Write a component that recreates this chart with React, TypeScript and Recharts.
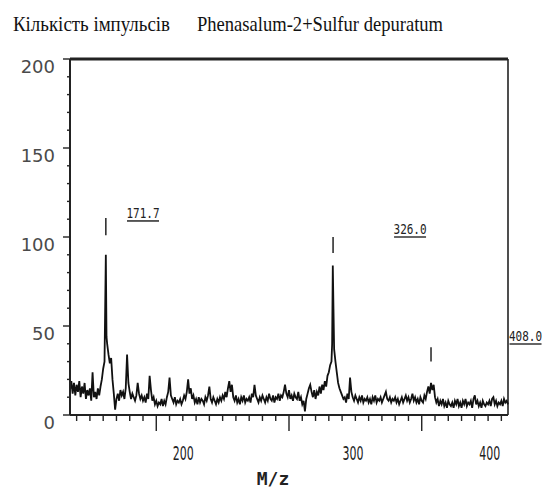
import React from "react";
import { ComposedChart, Line, XAxis, YAxis, ReferenceLine, ReferenceDot } from "recharts";

// m/z positions
const mz = [
  135, 136, 137, 138, 139, 140, 141, 142, 143, 144,
  145, 146, 147, 148, 149, 150, 151, 152, 153, 154,
  155, 156, 157, 158, 159, 160, 161,
  162, 162.5,
  163, 164, 165, 166, 167, 168, 169, 170, 171, 172,
  173, 174, 175, 176, 177, 178, 179, 180, 181, 182,
  183, 184, 185, 186, 187, 188, 189, 190, 191, 192,
  193, 194, 195, 196, 197, 198, 199, 200, 201, 202,
  203, 204, 205, 206, 207, 208, 209, 210, 211, 212,
  213, 214, 215, 216, 217, 218, 219, 220, 221, 222,
  223, 224, 225, 226, 227, 228, 229, 230, 231, 232,
  233, 234, 235, 236, 237, 238, 239, 240, 241, 242,
  243, 244, 245, 246, 247, 248, 249, 250, 251, 252,
  253, 254, 255, 256, 257, 258, 259, 260, 261, 262,
  263, 264, 265, 266, 267, 268, 269, 270, 271, 272,
  273, 274, 275, 276, 277, 278, 279, 280, 281, 282,
  283, 284, 285, 286, 287, 288, 289, 290, 291, 292,
  293, 294, 295, 296, 297, 298, 299, 300, 301, 302,
  303, 304, 305, 306, 307, 308, 309, 310, 311, 312,
  313, 314, 315, 316, 317, 318, 319, 320, 321, 322,
  323, 324, 325, 326, 327, 328, 329, 330, 331, 332,
  332.5, 333, 333.5,
  334, 335, 336, 337, 338, 339, 340, 341, 342, 343,
  344, 345, 346, 347, 348, 349, 350, 351, 352, 353,
  354, 355, 356, 357, 358, 359, 360, 361, 362, 363,
  364, 365, 366, 367, 368, 369, 370, 371, 372, 373,
  374, 375, 376, 377, 378, 379, 380, 381, 382, 383,
  384, 385, 386, 387, 388, 389, 390, 391, 392, 393,
  394, 395, 396, 397, 398, 399, 400, 401, 402, 403,
  404, 405, 406, 407, 408, 409, 410, 411, 412, 413,
  414, 415, 416, 417, 418, 419, 420, 421, 422, 423,
  424, 425, 426, 427, 428, 429, 430, 431, 432, 433,
  434, 435, 436, 437, 438, 439, 440, 441, 442, 443,
  444, 445, 446, 447, 448, 449, 450, 451, 452, 453,
  454, 455, 456, 457, 458, 459, 460, 461, 462, 463,
  464, 465,
];

// pulse counts at each m/z
const counts = [
  14, 19, 12, 18, 11, 17, 13, 19, 10, 16,
  12, 18, 9, 14, 11, 15, 8, 24, 10, 13,
  9, 15, 11, 16, 20, 26, 30,
  90, 44,
  40, 34, 29, 32, 20, 12, 3, 9, 12, 8,
  14, 11, 13, 9, 15, 34, 18, 13, 9, 12,
  10, 8, 11, 18, 12, 9, 11, 8, 10, 7,
  12, 9, 22, 14, 8, 10, 6, 8, 5, 7,
  6, 9, 5, 8, 6, 10, 13, 21, 11, 9,
  7, 10, 6, 8, 7, 9, 6, 8, 11, 9,
  13, 20, 12, 15, 9, 11, 7, 9, 6, 10,
  7, 9, 8, 6, 10, 8, 11, 16, 9, 7,
  10, 8, 6, 9, 7, 10, 8, 11, 9, 13,
  10, 15, 19, 13, 17, 10, 8, 11, 7, 9,
  6, 10, 8, 11, 7, 9, 8, 10, 7, 12,
  10, 17, 11, 9, 7, 10, 8, 11, 9, 7,
  10, 8, 12, 9, 8, 11, 7, 10, 9, 12,
  8, 11, 10, 13, 17, 12, 10, 14, 9, 11,
  8, 12, 10, 9, 13, 8, 10, 6, 8, 2,
  9, 12, 15, 17, 13, 10, 14, 9, 13, 11,
  16, 12, 17, 14, 19, 16, 22, 24, 28, 30,
  40, 84, 60,
  37, 30, 24, 18, 15, 13, 11, 9, 10, 7,
  12, 9, 21, 13, 10, 8, 11, 9, 7, 10,
  8, 11, 7, 9, 8, 10, 7, 9, 6, 10,
  8, 11, 7, 9, 8, 10, 7, 9, 11, 13,
  9, 8, 10, 7, 9, 8, 10, 7, 9, 6,
  8, 10, 7, 9, 11, 8, 10, 7, 9, 12,
  8, 10, 7, 9, 6, 10, 8, 7, 11, 9,
  13, 16, 12, 18, 14, 17, 10, 7, 9, 5,
  8, 6, 9, 5, 7, 4, 8, 6, 5, 7,
  4, 8, 6, 9, 5, 7, 4, 8, 6, 9,
  5, 7, 6, 8, 4, 9, 11, 6, 8, 5,
  7, 4, 8, 6, 5, 7, 6, 8, 5, 9,
  10, 6, 8, 5, 7, 6, 8, 5, 9, 7,
  8, 6,
];

const xTicks = [140, 150, 160, 170, 180, 190, 200, 210, 220, 230, 240, 250, 260, 270, 280, 290, 300, 310, 320, 330, 340, 350, 360, 370, 380, 390, 400, 410, 420, 430, 440, 450, 460];
const xLabels = [200, 300, 400];
const yTicks = [0, 10, 20, 30, 40, 50, 60, 70, 80, 90, 100, 110, 120, 130, 140, 150, 160, 170, 180, 190, 200];
const yLabels = [0, 50, 100, 150, 200];

// annotated peaks: label text, peak m/z, marker range, label anchor
const peakNames = ["171.7", "326.0", "408.0"];
const peakMz = [162, 333.2, 407];
const markerLow = [101, 91, 30];
const markerHigh = [110.7, 100, 38];
const labelMz = [190, 391.2, 478.2];
const labelY = [110.7, 101.7, 41.6];

const data = mz.map((m, i) => ({ mz: m, counts: counts[i] }));

// the scanned labels sit to the right of their tick marks
const labelShift: Record<number, number> = { 200: 27, 300: 64, 400: 68 };

const XTick = (props: any) => {
  const { x, y, payload } = props;
  const v = payload.value;
  const major = xLabels.includes(v);
  return (
    <g>
      <line x1={x} x2={x} y1={y} y2={y + (major ? 16 : 6)} stroke="#222" strokeWidth={1.4} />
      {major && (
        <text
          x={x + (labelShift[v] ?? 0)}
          y={y + 45}
          textAnchor="middle"
          fontFamily="DejaVu Sans"
          fontSize={19}
          textLength={21}
          lengthAdjust="spacingAndGlyphs"
          fill="#222"
        >
          {v}
        </text>
      )}
    </g>
  );
};

const YTick = (props: any) => {
  const { x, y, payload } = props;
  const v = payload.value;
  const major = yLabels.includes(v);
  return (
    <g>
      <line x1={x - (major ? 7 : 3)} x2={x} y1={y} y2={y} stroke="#222" strokeWidth={1.4} />
      {major && (
        <text x={x - 15} y={y + 14} textAnchor="end" fontFamily="DejaVu Sans" fontSize={18} fill="#4a4a4a">
          {v}
        </text>
      )}
    </g>
  );
};

// plotter-style label: narrow mono glyphs stretched vertically, underlined
const peakLabel = (text: string) => (p: any) => (
  <g transform={`translate(${p.cx},${p.cy})`}>
    <text
      x={0}
      y={0}
      transform="scale(1,1.35)"
      textAnchor="middle"
      fontFamily="DejaVu Sans Mono"
      fontSize={11}
      fill="#222"
    >
      {text}
    </text>
    <line x1={-16} x2={16} y1={3} y2={3} stroke="#333" strokeWidth={1.6} />
  </g>
);

export default function App() {
  return (
    <div style={{ position: "absolute", left: 0, top: 0, width: 548, height: 492, background: "#fff" }}>
      <ComposedChart width={548} height={492} data={data} margin={{ top: 59, right: 40, bottom: 0, left: 0 }}>
        <XAxis
          dataKey="mz"
          type="number"
          domain={[135, 465]}
          ticks={xTicks}
          interval={0}
          height={77}
          tickSize={0}
          tickMargin={0}
          tickLine={false}
          tick={<XTick />}
          axisLine={{ stroke: "#222", strokeWidth: 2 }}
        />
        <YAxis
          type="number"
          domain={[0, 200]}
          ticks={yTicks}
          interval={0}
          width={70}
          tickSize={0}
          tickMargin={0}
          tickLine={false}
          tick={<YTick />}
          axisLine={{ stroke: "#222", strokeWidth: 2 }}
        />
        <ReferenceLine y={200} stroke="#222" strokeWidth={3} />
        <ReferenceLine x={465} stroke="#222" strokeWidth={1.6} />
        <Line
          dataKey="counts"
          type="linear"
          dot={false}
          stroke="#111"
          strokeWidth={1.8}
          isAnimationActive={false}
        />
        {peakNames.map((name, i) => (
          <ReferenceLine
            key={`m-${name}`}
            segment={[
              { x: peakMz[i], y: markerLow[i] },
              { x: peakMz[i], y: markerHigh[i] },
            ]}
            stroke="#222"
            strokeWidth={1.5}
          />
        ))}
        {peakNames.map((name, i) => (
          <ReferenceDot
            key={`l-${name}`}
            x={labelMz[i]}
            y={labelY[i]}
            r={0}
            ifOverflow="visible"
            shape={peakLabel(name)}
          />
        ))}
      </ComposedChart>
      <svg width={548} height={492} style={{ position: "absolute", left: 0, top: 0, pointerEvents: "none" }}>
        <text x={13} y={31} fontFamily="Liberation Serif" fontSize={21} textLength={157} lengthAdjust="spacingAndGlyphs" fill="#111">
          Кількість імпульсів
        </text>
        <text x={197} y={31} fontFamily="Liberation Serif" fontSize={21} textLength={246} lengthAdjust="spacingAndGlyphs" fill="#111">
          Phenasalum-2+Sulfur depuratum
        </text>
        <text x={273} y={485} textAnchor="middle" fontFamily="DejaVu Sans Mono" fontWeight="bold" fontSize={18} fill="#222">
          M/z
        </text>
      </svg>
    </div>
  );
}
